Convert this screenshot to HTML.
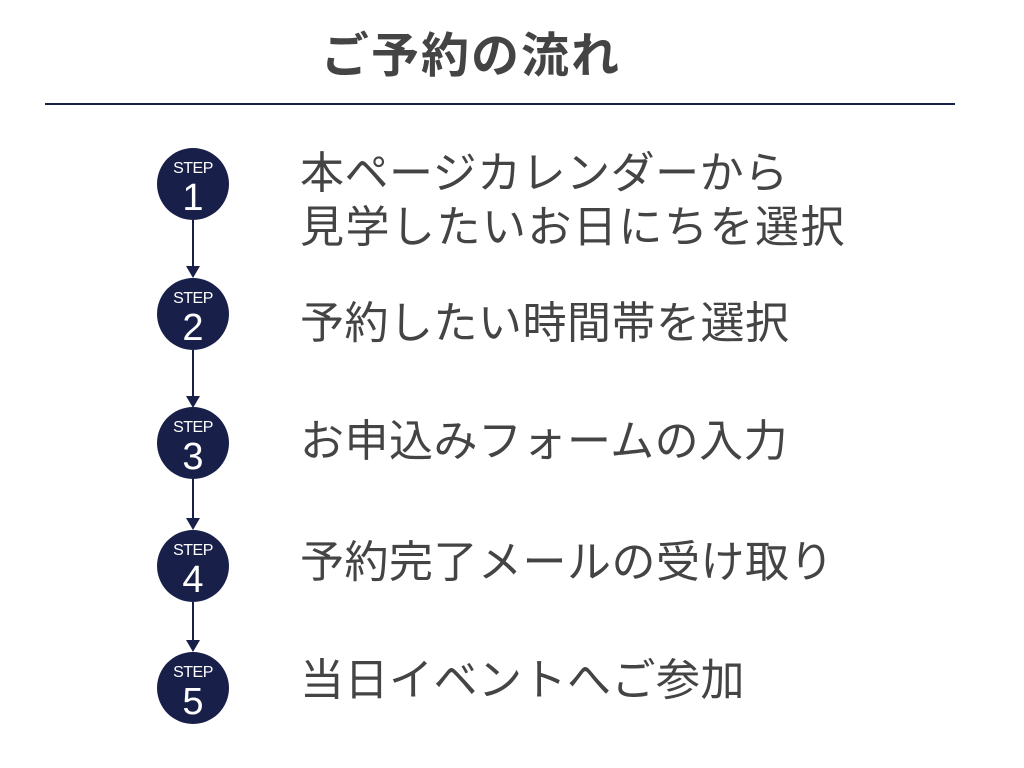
<!DOCTYPE html>
<html><head><meta charset="utf-8"><style>
body{margin:0;width:1024px;height:768px;background:#fff;position:relative;overflow:hidden;font-family:"Liberation Sans","Noto Sans CJK JP",sans-serif}
.t{position:absolute;color:#444;font-size:44px;letter-spacing:0.5px;line-height:1;white-space:nowrap;font-family:"Noto Sans CJK JP",sans-serif}
.c{position:absolute;left:157px;width:72px;height:72px;border-radius:50%;background:#18204a;color:#fff;text-align:center}
.c .s{position:absolute;top:13px;width:100%;font-size:16px;line-height:1;letter-spacing:-0.5px}
.c .n{position:absolute;top:31px;width:100%;font-size:38px;line-height:1;font-weight:300}
</style></head><body>
<div class="t" style="left:321px;top:27px;font-weight:bold;font-size:48px;letter-spacing:2px;color:#444">ご予約の流れ</div>
<div style="position:absolute;left:45px;top:103px;width:910px;height:2px;background:#18204a"></div>
<svg style="position:absolute;left:0;top:0" width="1024" height="768">
<g stroke="#18204a" stroke-width="2" fill="#18204a">
<line x1="193" y1="220" x2="193" y2="270"/><polygon points="186,266 200,266 193,278" stroke="none"/>
<line x1="193" y1="350" x2="193" y2="400"/><polygon points="186,396 200,396 193,408" stroke="none"/>
<line x1="193" y1="479" x2="193" y2="522"/><polygon points="186,518 200,518 193,530" stroke="none"/>
<line x1="193" y1="602" x2="193" y2="644"/><polygon points="186,640 200,640 193,652" stroke="none"/>
</g></svg>
<div class="c" style="top:148px"><div class="s">STEP</div><div class="n">1</div></div>
<div class="c" style="top:278px"><div class="s">STEP</div><div class="n">2</div></div>
<div class="c" style="top:407px"><div class="s">STEP</div><div class="n">3</div></div>
<div class="c" style="top:530px"><div class="s">STEP</div><div class="n">4</div></div>
<div class="c" style="top:652px"><div class="s">STEP</div><div class="n">5</div></div>
<div class="t" style="left:300px;top:147px">本ページカレンダーから</div>
<div class="t" style="left:300px;top:201px;letter-spacing:1.5px">見学したいお日にちを選択</div>
<div class="t" style="left:300px;top:297px">予約したい時間帯を選択</div>
<div class="t" style="left:300px;top:415px">お申込みフォームの入力</div>
<div class="t" style="left:300px;top:536px">予約完了メールの受け取り</div>
<div class="t" style="left:300px;top:654px">当日イベントへご参加</div>
</body></html>
